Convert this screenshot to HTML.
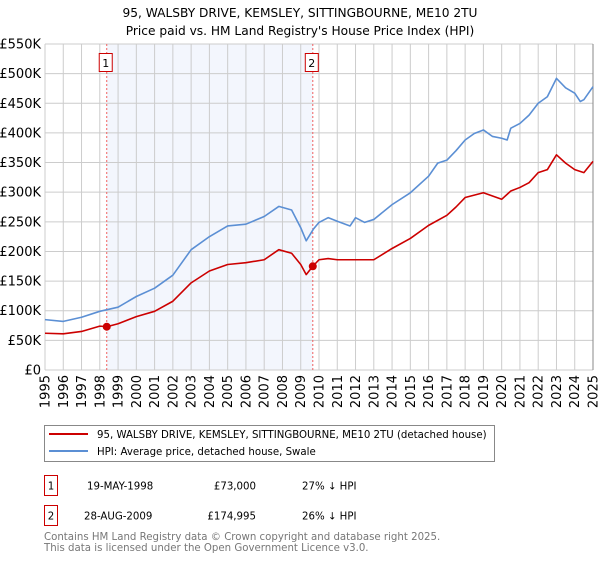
<!DOCTYPE html>
<html><head><meta charset="utf-8"><style>
body{margin:0;background:#fff;font-family:"DejaVu Sans","Liberation Sans",sans-serif;}
svg text{font-family:"DejaVu Sans","Liberation Sans",sans-serif;}
</style></head><body>
<svg id="chart" width="600" height="560" viewBox="0 0 600 560" xmlns="http://www.w3.org/2000/svg">
<text x="300" y="17" text-anchor="middle" font-size="12.2" fill="#000">95, WALSBY DRIVE, KEMSLEY, SITTINGBOURNE, ME10 2TU</text>
<text x="300" y="35" text-anchor="middle" font-size="12.2" fill="#000">Price paid vs. HM Land Registry's House Price Index (HPI)</text>
<g id="plot"></g>
<g>
<rect x="44.5" y="425.5" width="450" height="36" fill="#fff" stroke="#888"/>
<line x1="49" y1="434" x2="88" y2="434" stroke="#cc0000" stroke-width="2"/>
<text x="97" y="438" font-size="10.2">95, WALSBY DRIVE, KEMSLEY, SITTINGBOURNE, ME10 2TU (detached house)</text>
<line x1="49" y1="451" x2="88" y2="451" stroke="#5b8fd4" stroke-width="2"/>
<text x="97" y="455" font-size="10.2">HPI: Average price, detached house, Swale</text>
</g>
<g font-size="10.2">
<rect x="44.5" y="475.5" width="13" height="20" fill="#fff" stroke="#cc0000"/>
<text x="51" y="489.5" text-anchor="middle">1</text>
<text x="87" y="489.5">19-MAY-1998</text>
<text x="256" y="489.5" text-anchor="end">£73,000</text>
<text x="302" y="489.5">27% ↓ HPI</text>
<rect x="44.5" y="505.5" width="13" height="20" fill="#fff" stroke="#cc0000"/>
<text x="51" y="519.5" text-anchor="middle">2</text>
<text x="84" y="519.5">28-AUG-2009</text>
<text x="256" y="519.5" text-anchor="end">£174,995</text>
<text x="302" y="519.5">26% ↓ HPI</text>
</g>
<text x="44" y="540" font-size="10.2" fill="#777">Contains HM Land Registry data © Crown copyright and database right 2025.</text>
<text x="44" y="551" font-size="10.2" fill="#777">This data is licensed under the Open Government Licence v3.0.</text>
</svg>
<script>
const hpiYears=[1995,1996,1997,1998,1999,2000,2001,2002,2003,2004,2005,2006,2007,2007.8,2008.5,2009,2009.3,2009.7,2010,2010.5,2011,2011.7,2012,2012.5,2013,2014,2015,2016,2016.5,2017,2017.5,2018,2018.5,2019,2019.5,2020,2020.3,2020.5,2021,2021.5,2022,2022.5,2023,2023.5,2024,2024.3,2024.5,2025];
const hpiValues=[85,82,89,99,106,124,138,160,203,225,243,246,259,276,270,240,218,238,249,257,251,243,257,249,254,279,299,327,349,354,370,388,399,405,394,391,388,408,416,430,450,461,492,476,467,453,456,478];
const priceYears=[1995,1996,1997,1998,1998.38,1999,2000,2001,2002,2003,2004,2005,2006,2007,2007.8,2008.5,2009,2009.3,2009.66,2010,2010.5,2011,2012,2013,2014,2015,2016,2017,2017.5,2018,2019,2020,2020.5,2021,2021.5,2022,2022.5,2023,2023.5,2024,2024.5,2025];
const priceValues=[62,61,65,74,73,78,90,99,116,147,167,178,181,186,203,197,178,161,175,186,188,186,186,186,205,222,244,261,275,291,299,288,302,308,316,333,338,363,349,338,333,352];
const saleYears=[1998.38,2009.66];
const saleValues=[73,174.995];
const saleLabels=["1","2"];
const yTicks=[0,50,100,150,200,250,300,350,400,450,500,550];
const yTickLabels=["£0","£50K","£100K","£150K","£200K","£250K","£300K","£350K","£400K","£450K","£500K","£550K"];
const xTicks=[1995,1996,1997,1998,1999,2000,2001,2002,2003,2004,2005,2006,2007,2008,2009,2010,2011,2012,2013,2014,2015,2016,2017,2018,2019,2020,2021,2022,2023,2024,2025];

const NS="http://www.w3.org/2000/svg";
const X0=45,X1=593,Y0=370,Y1=44;
const xs=y=>X0+(y-1995)/30*(X1-X0);
const ys=v=>Y0-v/550*(Y0-Y1);
const plot=document.getElementById('plot');
function mk(t,a,p){const e=document.createElementNS(NS,t);for(const k in a)e.setAttribute(k,a[k]);(p||plot).appendChild(e);return e;}
mk('rect',{x:X0,y:Y1,width:X1-X0,height:Y0-Y1,fill:'#fff'});
const shade=mk('rect',{x:xs(saleYears[0]),y:Y1,width:xs(saleYears[1])-xs(saleYears[0]),height:Y0-Y1,fill:'#eef2fc',opacity:0.7});


yTicks.forEach((t,i)=>{
 const g=mk('line',{x1:X0,x2:X1,y1:ys(t),y2:ys(t),stroke:'#ccc','stroke-width':1});
 
 
 const l=mk('text',{x:X0-4,y:ys(t)+4.5,'text-anchor':'end','font-size':13});
 l.textContent=yTickLabels[i];
 
 
});
xTicks.forEach(t=>{
 const g=mk('line',{x1:xs(t),x2:xs(t),y1:Y1,y2:Y0,stroke:'#ccc','stroke-width':1});
 
 
 const l=mk('text',{x:0,y:0,'text-anchor':'end','font-size':13,transform:`translate(${xs(t)+4.5},${Y0+5}) rotate(-90)`});
 l.textContent=t;
 
 
});
mk('line',{x1:X1,x2:X1,y1:Y1,y2:Y0,stroke:'#888','stroke-width':1});
saleYears.forEach((s,i)=>{
 const v=mk('line',{x1:xs(s),x2:xs(s),y1:Y1,y2:Y0,stroke:'#f06060','stroke-dasharray':'2,2','stroke-width':1});
 
 
 const b=mk('rect',{x:xs(s)-7.5,y:53.5,width:13,height:18,fill:'#fff',stroke:'#cc0000'});
 
 
 const t=mk('text',{x:xs(s)-1,y:67,'text-anchor':'middle','font-size':11});
 t.textContent=saleLabels[i];
 
 
});
const hp=mk('polyline',{points:hpiYears.map((y,i)=>xs(y)+','+ys(hpiValues[i])).join(' '),fill:'none',stroke:'#5b8fd4','stroke-width':1.6,'stroke-linejoin':'round'});


const pp=mk('polyline',{points:priceYears.map((y,i)=>xs(y)+','+ys(priceValues[i])).join(' '),fill:'none',stroke:'#cc0000','stroke-width':1.6,'stroke-linejoin':'round'});


saleYears.forEach((s,i)=>{
 const c=mk('circle',{cx:xs(s),cy:ys(saleValues[i]),r:4,fill:'#cc0000'});
 
 
});
</script>
</body></html>
